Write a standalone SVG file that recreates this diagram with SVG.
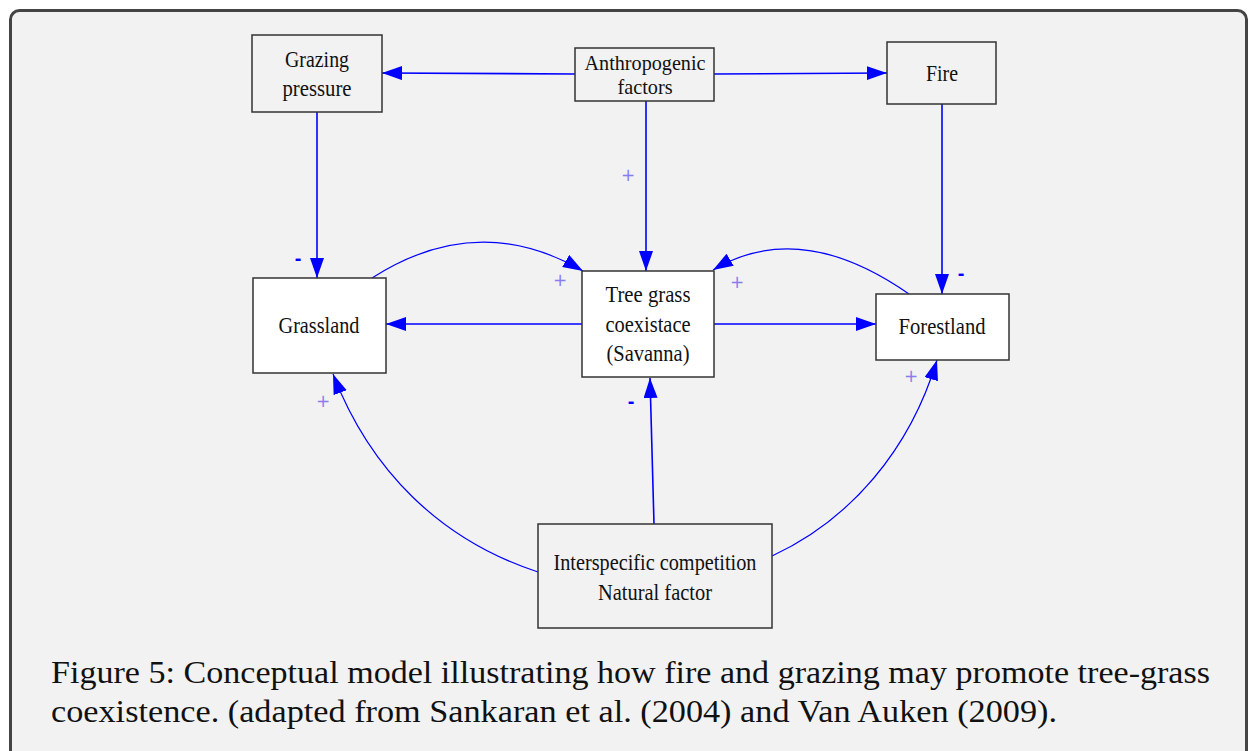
<svg xmlns="http://www.w3.org/2000/svg" width="1250" height="751" viewBox="0 0 1250 751">
<defs>
<marker id="ah" markerUnits="userSpaceOnUse" markerWidth="22" markerHeight="16" refX="20" refY="7" orient="auto">
<path d="M0,0 L20,7 L0,14 z" fill="#0000ff"/>
</marker>
<style>
.box{stroke:#333;stroke-width:1.5}
.g{fill:#f2f2f2}
.w{fill:#ffffff}
.t{font-family:"Liberation Serif","Times New Roman",serif;font-size:24px;fill:#111;text-anchor:middle}
.s{font-size:21px}
.c{fill:none;stroke:#0000ff;stroke-width:1.6;marker-end:url(#ah)}
.cv{fill:none;stroke:#0000ff;stroke-width:1.2;marker-end:url(#ah)}
.p{font-family:"DejaVu Sans",sans-serif;font-size:17px;fill:#8a7cf0;text-anchor:middle}
.m{font-family:"Liberation Sans",Arial,sans-serif;font-size:20px;font-weight:bold;fill:#0000ff;text-anchor:middle}
.cap{font-family:"Liberation Serif","Times New Roman",serif;font-size:31px;fill:#111}
</style>
</defs>
<rect x="0" y="0" width="1250" height="751" fill="#ffffff"/>
<rect x="10.5" y="10.5" width="1236" height="770" rx="9" fill="#f2f2f2" stroke="#444" stroke-width="3"/>

<g id="connectors">
<path class="c" d="M575,74 L382,73"/>
<path class="c" d="M714,74 L887,73"/>
<path class="c" d="M646,101 L646,271"/>
<path class="c" d="M317,112 L317,278"/>
<path class="c" d="M942,104 L942,294"/>
<path class="c" d="M582,324 L386,324"/>
<path class="c" d="M714,324 L876,324"/>
<path class="cv" d="M372,278 Q478,210 583,271"/>
<path class="cv" d="M909,294 Q800,218 713,270"/>
<path class="c" d="M654,524 L650,378"/>
<path class="cv" d="M538,572 C440,540 370,470 333,374"/>
<path class="cv" d="M772,556 C850,520 910,450 937,360"/>
<text class="p" x="628" y="181">+</text>
<text class="p" x="560" y="286">+</text>
<text class="p" x="737" y="288">+</text>
<text class="p" x="323" y="407">+</text>
<text class="p" x="911" y="382">+</text>
<text class="m" x="298" y="265">-</text>
<text class="m" x="961" y="280">-</text>
<text class="m" x="631" y="408">-</text>
</g>

<g id="grazing">
<rect class="box g" x="252" y="35" width="130" height="77"/>
<text class="t" x="317" y="67" textLength="64" lengthAdjust="spacingAndGlyphs">Grazing</text>
<text class="t" x="317" y="96" textLength="69" lengthAdjust="spacingAndGlyphs">pressure</text>
</g>
<g id="anthropogenic">
<rect class="box g" x="575" y="48" width="139" height="53"/>
<text class="t s" x="645" y="70" textLength="121" lengthAdjust="spacingAndGlyphs">Anthropogenic</text>
<text class="t s" x="645" y="94" textLength="55" lengthAdjust="spacingAndGlyphs">factors</text>
</g>
<g id="fire">
<rect class="box g" x="887" y="42" width="109" height="62"/>
<text class="t" x="942" y="81" textLength="32" lengthAdjust="spacingAndGlyphs">Fire</text>
</g>
<g id="grassland">
<rect class="box w" x="253" y="278" width="133" height="95"/>
<text class="t" x="319" y="333" textLength="81" lengthAdjust="spacingAndGlyphs">Grassland</text>
</g>
<g id="savanna">
<rect class="box w" x="582" y="271" width="132" height="106"/>
<text class="t" x="648" y="302" textLength="85" lengthAdjust="spacingAndGlyphs">Tree grass</text>
<text class="t" x="648" y="332" textLength="85" lengthAdjust="spacingAndGlyphs">coexistace</text>
<text class="t" x="648" y="361" textLength="83" lengthAdjust="spacingAndGlyphs">(Savanna)</text>
</g>
<g id="forestland">
<rect class="box w" x="876" y="294" width="133" height="66"/>
<text class="t" x="942" y="334" textLength="87" lengthAdjust="spacingAndGlyphs">Forestland</text>
</g>
<g id="interspecific">
<rect class="box g" x="538" y="524" width="234" height="104"/>
<text class="t" x="655" y="570" textLength="203" lengthAdjust="spacingAndGlyphs">Interspecific competition</text>
<text class="t" x="655" y="600" textLength="114" lengthAdjust="spacingAndGlyphs">Natural factor</text>
</g>

<text class="cap" x="51" y="683" textLength="1159" lengthAdjust="spacingAndGlyphs">Figure 5: Conceptual model illustrating how fire and grazing may promote tree-grass</text>
<text class="cap" x="51" y="722" textLength="1006" lengthAdjust="spacingAndGlyphs">coexistence. (adapted from Sankaran et al. (2004) and Van Auken (2009).</text>
</svg>
